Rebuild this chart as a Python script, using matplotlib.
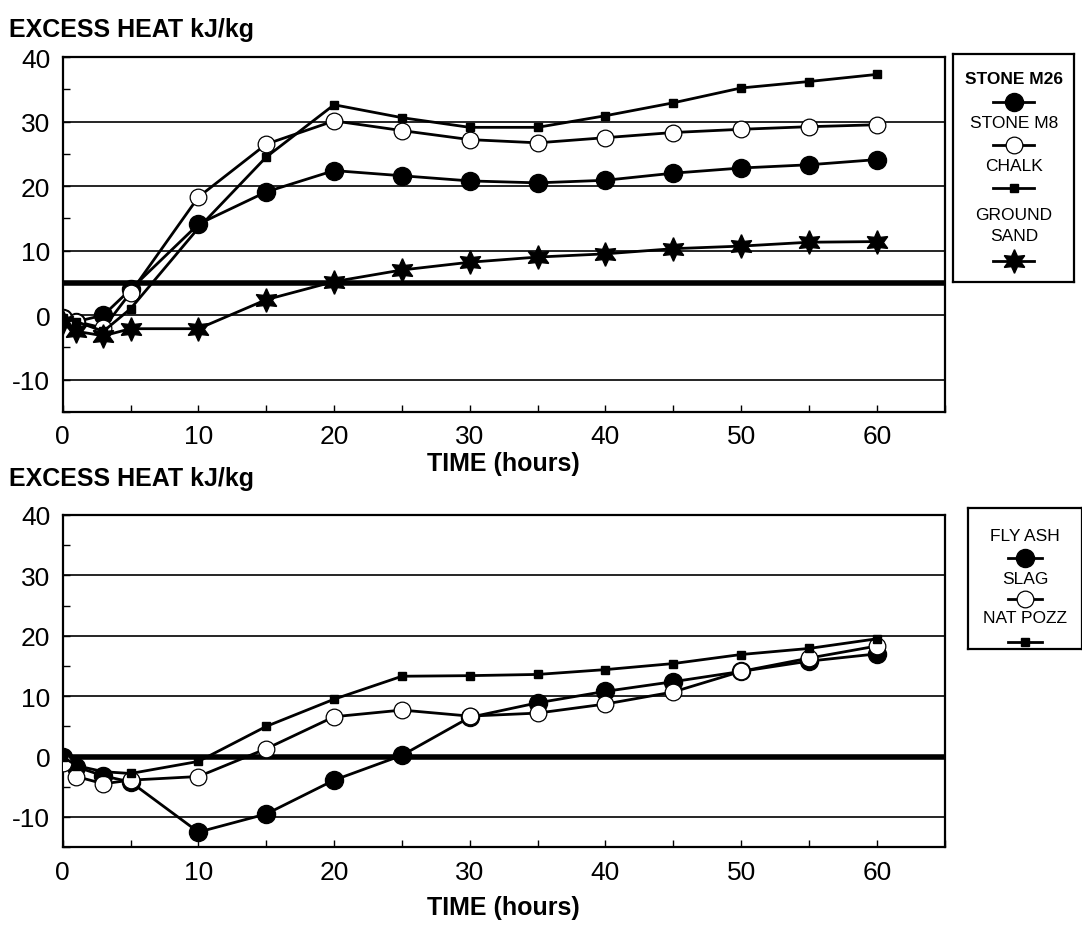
import matplotlib
matplotlib.use("Agg")
import matplotlib.pyplot as plt
from matplotlib.ticker import MultipleLocator

plt.rcParams['font.family'] = ['Liberation Sans', 'DejaVu Sans']
plt.rcParams['axes.unicode_minus'] = False

# ---- data ----
hours = [0, 1, 3, 5, 10, 15, 20, 25, 30, 35, 40, 45, 50, 55, 60]

stone_m26 = [-0.5, -1.0, 0.0, 4.0, 14.1, 19.1, 22.4, 21.6, 20.8, 20.5, 20.9, 22.0, 22.8, 23.3, 24.1]
stone_m8 = [-0.5, -1.0, -2.0, 3.5, 18.3, 26.5, 30.1, 28.6, 27.2, 26.7, 27.5, 28.3, 28.8, 29.2, 29.5]
chalk = [-0.5, -1.0, -2.5, 1.0, 13.5, 24.5, 32.6, 30.6, 29.1, 29.1, 30.9, 32.9, 35.2, 36.2, 37.3]
ground_sand = [-1.0, -2.5, -3.2, -2.1, -2.1, 2.4, 5.2, 7.0, 8.2, 9.0, 9.5, 10.3, 10.7, 11.3, 11.4]

fly_ash = [0.0, -1.7, -3.2, -4.2, -12.5, -9.5, -3.9, 0.2, 6.5, 8.9, 10.8, 12.4, 14.1, 15.8, 17.0]
slag = [-1.0, -3.3, -4.5, -3.9, -3.3, 1.3, 6.6, 7.7, 6.7, 7.2, 8.7, 10.7, 14.1, 16.3, 18.3]
nat_pozz = [0.0, -1.5, -2.5, -2.8, -0.8, 5.0, 9.5, 13.3, 13.4, 13.6, 14.4, 15.4, 16.9, 17.9, 19.5]

top_ref = 5     # thick reference line, top panel
bot_ref = 0     # thick reference line, bottom panel

ylabel_text = "EXCESS HEAT kJ/kg"
xlabel_text = "TIME (hours)"

star6 = (6, 1, 0)
styles = {
    "STONE M26": dict(marker="o", ms=13, mfc="black", mec="black"),
    "STONE M8": dict(marker="o", ms=12, mfc="white", mec="black", mew=0.9),
    "CHALK": dict(marker="s", ms=6, mfc="black", mec="black"),
    "GROUND\nSAND": dict(marker=star6, ms=17, mfc="black", mec="black"),
    "FLY ASH": dict(marker="o", ms=13, mfc="black", mec="black"),
    "SLAG": dict(marker="o", ms=12, mfc="white", mec="black", mew=0.9),
    "NAT POZZ": dict(marker="s", ms=6, mfc="black", mec="black"),
}

fig = plt.figure(figsize=(10.82, 9.28), dpi=100)


def setup(ax, ref, labelpad):
    ax.set_xlim(0, 65)
    ax.set_ylim(-15, 40)
    ax.set_xticks([0, 10, 20, 30, 40, 50, 60])
    ax.set_yticks([-10, 0, 10, 20, 30, 40])
    ax.xaxis.set_minor_locator(MultipleLocator(5))
    ax.yaxis.set_minor_locator(MultipleLocator(5))
    ax.tick_params(which="both", direction="in", length=5, width=1, labelsize=19)
    ax.tick_params(axis="x", pad=9)
    ax.tick_params(axis="y", pad=9)
    for s in ax.spines.values():
        s.set_linewidth(1.6)
    for g in [-10, 0, 10, 20, 30]:
        ax.axhline(g, color="black", lw=1.2, zorder=1)
    ax.axhline(ref, color="black", lw=4, zorder=2)
    ax.set_xlabel(xlabel_text, fontsize=18, fontweight="bold", labelpad=labelpad)


def legend_box(rect):
    lax = fig.add_axes(rect)
    lax.set_xlim(0, 1)
    lax.set_ylim(0, 1)
    lax.set_xticks([])
    lax.set_yticks([])
    for s in lax.spines.values():
        s.set_linewidth(1.6)
    return lax


def legend_sample(lax, name, y, half):
    lax.plot([0.5 - half, 0.5 + half], [y, y], color="black", lw=2, clip_on=False)
    lax.plot([0.5], [y], color="black", lw=0, clip_on=False, **styles[name])


ax1 = fig.add_axes([0.058, 0.555, 0.815, 0.3825])
setup(ax1, top_ref, 2)
for name, vals in [("STONE M26", stone_m26), ("STONE M8", stone_m8),
                   ("CHALK", chalk), ("GROUND\nSAND", ground_sand)]:
    ax1.plot(hours, vals, color="black", lw=2, zorder=3, **styles[name])

ax2 = fig.add_axes([0.058, 0.086, 0.815, 0.358])
setup(ax2, bot_ref, 8)
for name, vals in [("FLY ASH", fly_ash), ("SLAG", slag), ("NAT POZZ", nat_pozz)]:
    ax2.plot(hours, vals, color="black", lw=2, zorder=3, **styles[name])

fig.text(0.008, 0.968, ylabel_text, fontsize=18, fontweight="bold", va="center")
fig.text(0.008, 0.484, ylabel_text, fontsize=18, fontweight="bold", va="center")

# legends: label above a short line + marker sample
lax1 = legend_box([0.881, 0.695, 0.112, 0.246])
entries1 = [("STONE M26", 0.89, 0.79), ("STONE M8", 0.70, 0.60),
            ("CHALK", 0.51, 0.41), ("GROUND\nSAND", 0.25, 0.09)]
for name, ty, my in entries1:
    lax1.text(0.5, ty, name, ha="center", va="center", fontsize=12.5,
              fontweight="bold" if name == "STONE M26" else "normal", linespacing=1.5)
    legend_sample(lax1, name, my, 0.17)

lax2 = legend_box([0.895, 0.30, 0.105, 0.152])
entries2 = [("FLY ASH", 0.80, 0.64), ("SLAG", 0.50, 0.35), ("NAT POZZ", 0.22, 0.05)]
for name, ty, my in entries2:
    lax2.text(0.5, ty, name, ha="center", va="center", fontsize=12.5)
    legend_sample(lax2, name, my, 0.15)

fig.savefig("out.png", dpi=100)
